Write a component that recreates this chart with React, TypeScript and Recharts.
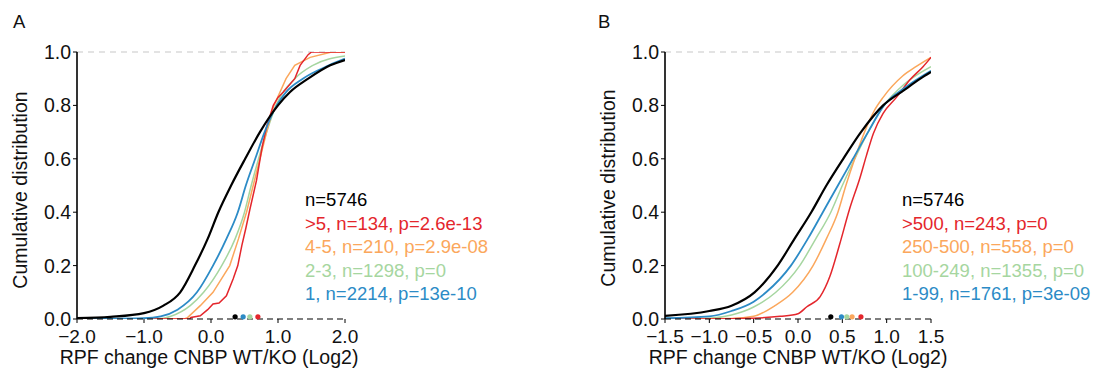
import React from "react";
import { ComposedChart, Line, XAxis, YAxis, ReferenceLine, ReferenceDot } from "recharts";

const FONT = "'Liberation Sans', Arial, Helvetica, sans-serif";

const COLORS = { black: "#000000", red: "#e4262c", orange: "#fba75c", green: "#a6d6a0", blue: "#2c8bc6" };

// ---------- Panel A data ----------
const aTicksX = [-2, -1, 0, 1, 2];
const yTicks = [0, 0.2, 0.4, 0.6, 0.8, 1.0];

const aBlackX = [-2.0, -1.5, -1.0, -0.71, -0.46, -0.24, -0.05, 0.11, 0.3, 0.51, 0.73, 1.0, 1.18, 1.45, 1.78, 2.0];
const aBlackY = [0.003, 0.008, 0.022, 0.05, 0.1, 0.2, 0.3, 0.4, 0.5, 0.6, 0.7, 0.8, 0.85, 0.9, 0.95, 0.97];

const aBlueX = [-2.0, -1.0, -0.75, -0.5, -0.21, 0.03, 0.23, 0.4, 0.52, 0.66, 0.8, 0.98, 1.12, 1.37, 1.76, 2.0];
const aBlueY = [0.0, 0.003, 0.01, 0.035, 0.1, 0.2, 0.3, 0.4, 0.5, 0.6, 0.7, 0.8, 0.85, 0.9, 0.95, 0.975];

const aGreenX = [-2.0, -0.8, -0.6, -0.31, -0.11, 0.16, 0.36, 0.5, 0.6, 0.71, 0.83, 0.97, 1.25, 1.52, 2.0];
const aGreenY = [0, 0, 0.01, 0.05, 0.1, 0.2, 0.3, 0.4, 0.5, 0.6, 0.7, 0.8, 0.9, 0.95, 0.985];

const aOrangeX = [-2, -0.4, -0.35, -0.16, 0.03, 0.28, 0.41, 0.53, 0.63, 0.73, 0.83, 0.94, 1.12, 1.25, 1.48, 1.8, 2.0];
const aOrangeY = [0, 0, 0.005, 0.05, 0.1, 0.2, 0.3, 0.4, 0.5, 0.6, 0.7, 0.8, 0.9, 0.95, 0.98, 1.0, 1.0];

const aRedX = [-2, -0.32, -0.3, -0.16, -0.05, 0.03, 0.12, 0.23, 0.33, 0.4, 0.46, 0.52, 0.58, 0.68, 0.76, 0.83, 0.93, 1.0, 1.08, 1.25, 1.33, 1.45, 1.5, 2.0];
const aRedY = [0, 0, 0.006, 0.012, 0.035, 0.056, 0.06, 0.087, 0.15, 0.2, 0.275, 0.34, 0.41, 0.52, 0.64, 0.72, 0.8, 0.83, 0.85, 0.9, 0.95, 0.99, 1.0, 1.0];

const aMedianX = [0.36, 0.48, 0.58, 0.7];
const aMedianColor = [COLORS.black, COLORS.blue, COLORS.green, COLORS.red];

const aLegend = [
  "n=5746",
  ">5, n=134, p=2.6e-13",
  "4-5, n=210, p=2.9e-08",
  "2-3, n=1298, p=0",
  "1, n=2214, p=13e-10",
];

// ---------- Panel B data ----------
const bTicksX = [-1.5, -1, -0.5, 0, 0.5, 1, 1.5];

const bBlackX = [-1.5, -1.0, -0.75, -0.49, -0.23, -0.04, 0.15, 0.32, 0.51, 0.71, 0.96, 1.2, 1.38, 1.5];
const bBlackY = [0.012, 0.03, 0.05, 0.1, 0.2, 0.3, 0.4, 0.5, 0.6, 0.7, 0.8, 0.858, 0.9, 0.925];

const bBlueX = [-1.5, -1.0, -0.75, -0.5, -0.36, -0.08, 0.11, 0.28, 0.45, 0.62, 0.79, 0.97, 1.2, 1.5];
const bBlueY = [0.003, 0.01, 0.03, 0.065, 0.1, 0.2, 0.3, 0.4, 0.5, 0.6, 0.7, 0.8, 0.865, 0.93];

const bGreenX = [-1.5, -1.0, -0.75, -0.5, -0.25, 0.02, 0.2, 0.37, 0.5, 0.64, 0.79, 0.97, 1.2, 1.5];
const bGreenY = [0, 0.003, 0.015, 0.045, 0.1, 0.2, 0.3, 0.4, 0.5, 0.6, 0.7, 0.8, 0.88, 0.945];

const bOrangeX = [-1.5, -0.75, -0.5, -0.26, -0.06, 0.17, 0.32, 0.45, 0.54, 0.64, 0.75, 0.86, 0.96, 1.18, 1.33, 1.5];
const bOrangeY = [0, 0.002, 0.01, 0.05, 0.1, 0.2, 0.3, 0.4, 0.5, 0.6, 0.7, 0.78, 0.83, 0.91, 0.945, 0.98];

const bRedX = [-1.5, -1.0, -0.5, -0.2, 0.0, 0.1, 0.25, 0.36, 0.47, 0.58, 0.7, 0.77, 0.85, 0.96, 1.11, 1.26, 1.41, 1.5];
const bRedY = [0, 0, 0.003, 0.01, 0.02, 0.046, 0.084, 0.16, 0.28, 0.41, 0.53, 0.61, 0.695, 0.77, 0.83, 0.895, 0.945, 0.98];

const bMedianX = [0.37, 0.49, 0.55, 0.61, 0.71];
const bMedianColor = [COLORS.black, COLORS.blue, COLORS.green, COLORS.orange, COLORS.red];

const bLegend = [
  "n=5746",
  ">500, n=243, p=0",
  "250-500, n=558, p=0",
  "100-249, n=1355, p=0",
  "1-99, n=1761, p=3e-09",
];

const legendColors = [COLORS.black, COLORS.red, COLORS.orange, COLORS.green, COLORS.blue];

const toPts = (xs: number[], ys: number[]) => xs.map((x, i) => ({ x, y: ys[i] }));

const fmt = (v: number) => {
  const s = Math.abs(v).toFixed(1);
  return v < 0 ? "\u2212" + s : s;
};

type Series = { name: string; color: string; width: number; xs: number[]; ys: number[]; curve: "monotone" | "linear" };

function Panel(props: {
  left: number;
  marginLeft: number;
  marginRight: number;
  domain: [number, number];
  ticks: number[];
  series: Series[];
  medX: number[];
  medC: string[];
}) {
  const { left, marginLeft, marginRight, domain, ticks, series, medX, medC } = props;
  return (
    <div style={{ position: "absolute", left, top: 0 }}>
      <ComposedChart
        width={550}
        height={370}
        margin={{ top: 52, right: marginRight, bottom: 21, left: marginLeft }}
      >
        <XAxis
          type="number"
          dataKey="x"
          domain={domain}
          ticks={ticks}
          allowDataOverflow
          tickFormatter={fmt}
          height={30}
          tickSize={4}
          tickMargin={7}
          axisLine={{ stroke: "#000", strokeWidth: 1.2, strokeDasharray: "6 4" }}
          tickLine={{ stroke: "#000", strokeWidth: 1 }}
          tick={{ fontSize: 19, fill: "#111", fontFamily: FONT }}
          interval={0}
        />
        <YAxis
          type="number"
          domain={[0, 1]}
          ticks={yTicks}
          allowDataOverflow
          tickFormatter={(v: number) => v.toFixed(1)}
          width={60}
          tickSize={4}
          tickMargin={2}
          axisLine={{ stroke: "#000", strokeWidth: 1.6 }}
          tickLine={{ stroke: "#000", strokeWidth: 1 }}
          tick={{ fontSize: 19.5, fill: "#111", fontFamily: FONT }}
          interval={0}
        />
        <ReferenceLine y={1} stroke="#c8c8c8" strokeDasharray="6 5" strokeWidth={1.2} />
        {series.map((s) => (
          <Line
            key={s.name}
            name={s.name}
            data={toPts(s.xs, s.ys)}
            dataKey="y"
            type={s.curve}
            stroke={s.color}
            strokeWidth={s.width}
            dot={false}
            activeDot={false}
            isAnimationActive={false}
          />
        ))}
        {medX.map((m, i) => (
          <ReferenceDot key={i} x={m} y={0.008} r={2.6} fill={medC[i]} stroke="none" />
        ))}
      </ComposedChart>
    </div>
  );
}

const textBase: React.CSSProperties = {
  position: "absolute",
  fontFamily: FONT,
  fontSize: 19.5,
  color: "#111",
  whiteSpace: "nowrap",
};

function Legend(props: { left: number; items: string[] }) {
  return (
    <div style={{ ...textBase, fontSize: 18.5, left: props.left, top: 188, lineHeight: "23.5px" }}>
      {props.items.map((t, i) => (
        <div key={i} style={{ color: legendColors[i] }}>
          {t}
        </div>
      ))}
    </div>
  );
}

export default function App() {
  const aSeries: Series[] = [
    { name: "2-3", color: COLORS.green, width: 1.5, xs: aGreenX, ys: aGreenY, curve: "monotone" },
    { name: "4-5", color: COLORS.orange, width: 1.5, xs: aOrangeX, ys: aOrangeY, curve: "linear" },
    { name: ">5", color: COLORS.red, width: 1.5, xs: aRedX, ys: aRedY, curve: "linear" },
    { name: "1", color: COLORS.blue, width: 1.8, xs: aBlueX, ys: aBlueY, curve: "monotone" },
    { name: "all", color: COLORS.black, width: 2.2, xs: aBlackX, ys: aBlackY, curve: "monotone" },
  ];
  const bSeries: Series[] = [
    { name: "100-249", color: COLORS.green, width: 1.5, xs: bGreenX, ys: bGreenY, curve: "monotone" },
    { name: "250-500", color: COLORS.orange, width: 1.5, xs: bOrangeX, ys: bOrangeY, curve: "monotone" },
    { name: ">500", color: COLORS.red, width: 1.5, xs: bRedX, ys: bRedY, curve: "monotone" },
    { name: "1-99", color: COLORS.blue, width: 1.8, xs: bBlueX, ys: bBlueY, curve: "monotone" },
    { name: "all", color: COLORS.black, width: 2.2, xs: bBlackX, ys: bBlackY, curve: "monotone" },
  ];
  const xLabel = "RPF change CNBP WT/KO (Log2)";
  const yLabel = "Cumulative distribution";
  return (
    <div style={{ position: "absolute", left: 0, top: 0, width: 1099, height: 370, background: "#fff" }}>
      <Panel left={0} marginLeft={17} marginRight={205} domain={[-2, 2]} ticks={aTicksX} series={aSeries} medX={aMedianX} medC={aMedianColor} />
      <Panel left={550} marginLeft={55} marginRight={169} domain={[-1.5, 1.5]} ticks={bTicksX} series={bSeries} medX={bMedianX} medC={bMedianColor} />

      <div style={{ ...textBase, fontSize: 18.5, left: 13, top: 12, lineHeight: "20px" }}>A</div>
      <div style={{ ...textBase, fontSize: 18.5, left: 598, top: 12, lineHeight: "20px" }}>B</div>

      <div style={{ ...textBase, left: 20, top: 190, lineHeight: "20px", transform: "translate(-50%, -50%) rotate(-90deg)" }}>{yLabel}</div>
      <div style={{ ...textBase, left: 608, top: 188, lineHeight: "20px", transform: "translate(-50%, -50%) rotate(-90deg)" }}>{yLabel}</div>

      <div style={{ ...textBase, left: 9, top: 347, width: 400, textAlign: "center", lineHeight: "20px" }}>{xLabel}</div>
      <div style={{ ...textBase, left: 598, top: 347, width: 400, textAlign: "center", lineHeight: "20px" }}>{xLabel}</div>

      <Legend left={305} items={aLegend} />
      <Legend left={902} items={bLegend} />
    </div>
  );
}
